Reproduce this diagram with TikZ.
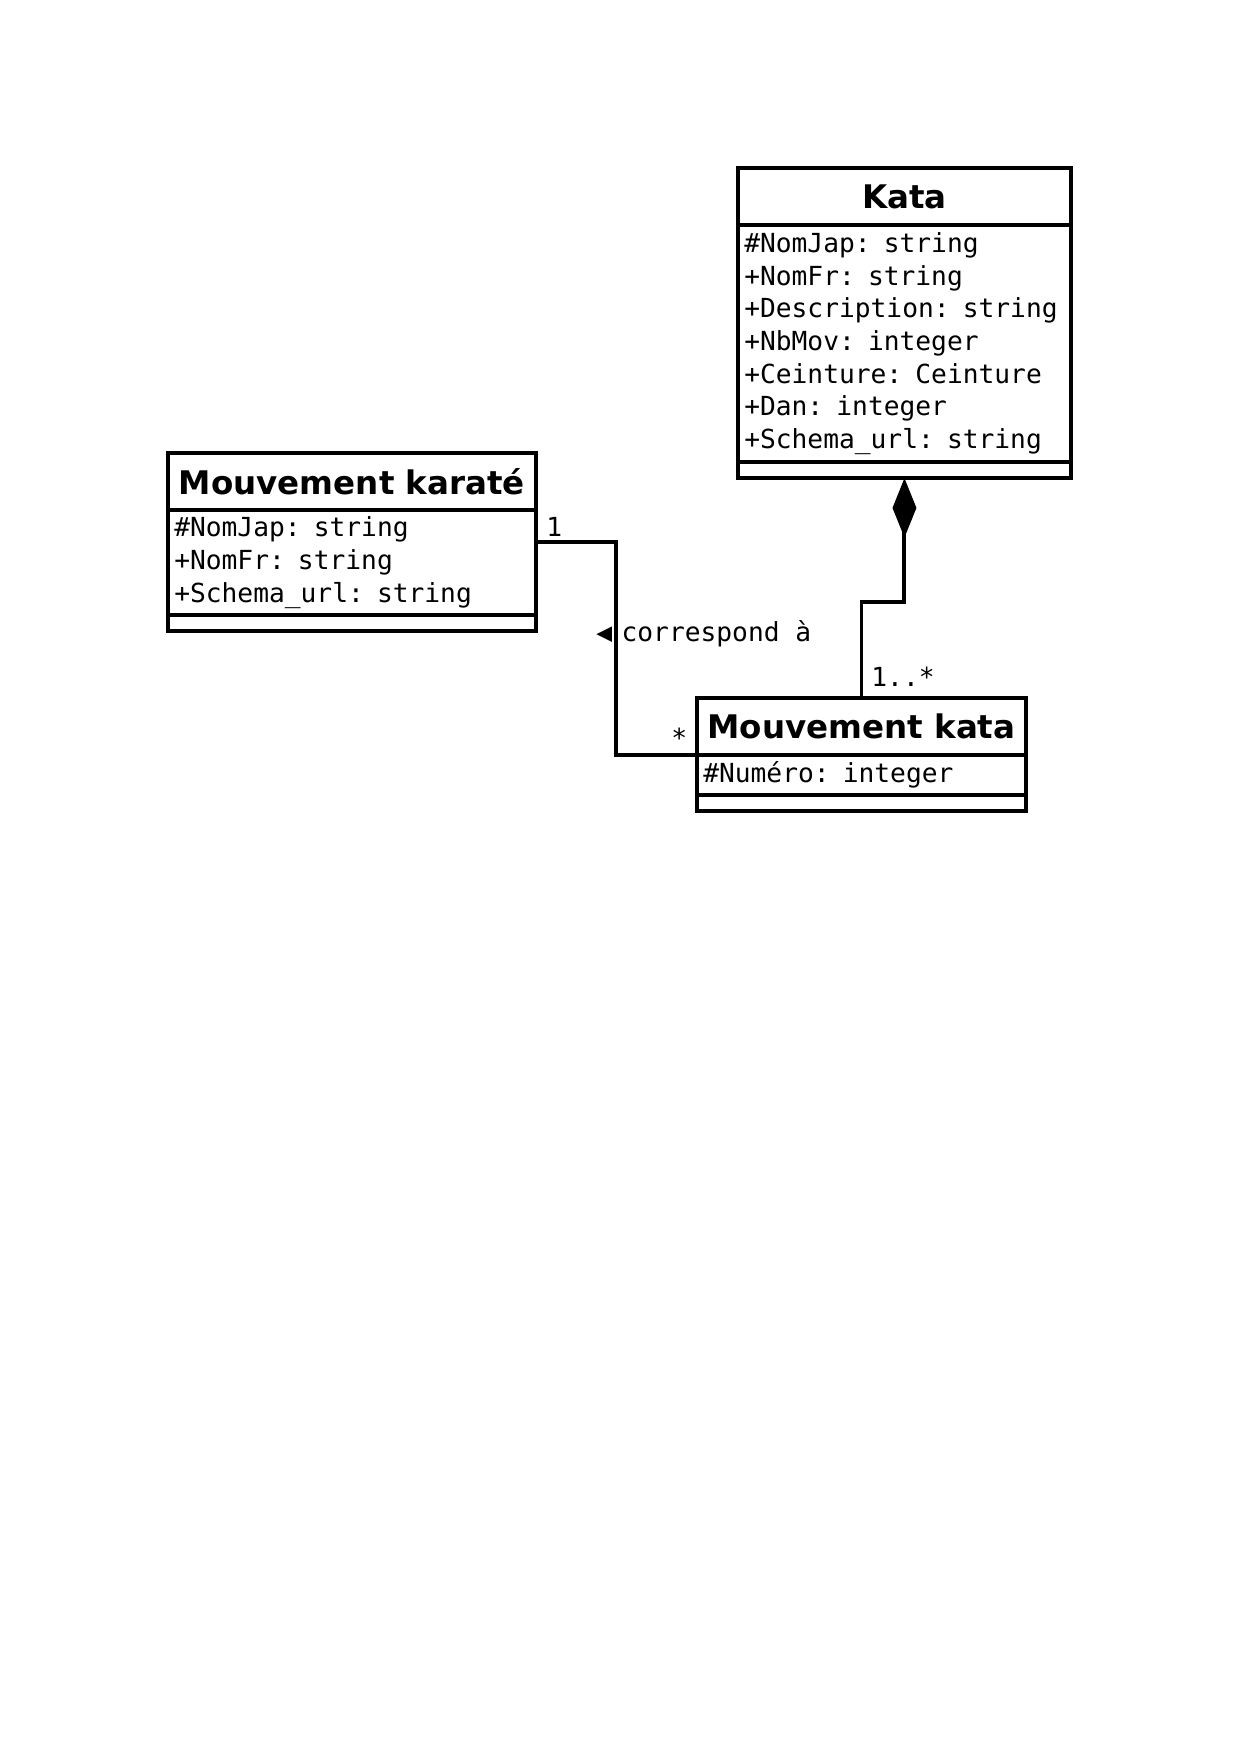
\documentclass[tikz,border=0pt]{standalone}
\usepackage{fontspec}
\setmainfont{DejaVu Sans}
\setmonofont{DejaVu Sans Mono}
\usetikzlibrary{positioning,arrows.meta}

\tikzset{
  classhead/.style={draw, line width=1.9pt, outer sep=0pt, minimum height=27.4pt, inner sep=0pt, font=\fontsize{15.6}{18}\selectfont\bfseries},
  classattr/.style={draw, line width=1.9pt, outer sep=0pt, inner xsep=3pt, inner ysep=2pt, align=left, font=\fontsize{12.6}{15.7}\selectfont\ttfamily},
  classops/.style={draw, line width=1.9pt, outer sep=0pt, minimum height=7.7pt, inner sep=0pt},
  assoc/.style={line width=1.9pt},
  comp/.style={line width=1.9pt, -{Diamond[length=28.5pt,width=11.5pt]}},
  multlabel/.style={inner sep=0pt, font=\fontsize{12.6}{15.7}\selectfont\ttfamily}
}

\begin{document}
\begin{tikzpicture}[x=0.48pt,y=-0.48pt]
\useasboundingbox (0,0) rectangle (1240,1754);

\node [classhead, minimum width=159.8pt, anchor=north west] (kata) at (738,168) {Kata};
\node [classattr, text width=153.8pt, minimum height=113.8pt, below=0pt of kata] (kataAttr)
  {\#NomJap: string\\+NomFr: string\\+Description: string\\+NbMov: integer\\+Ceinture: Ceinture\\+Dan: integer\\+Schema\_url: string};
\node [classops, minimum width=159.8pt, below=0pt of kataAttr] (kataOps) {};

\node [classhead, minimum width=176.6pt, anchor=north west] (karate) at (168,453) {Mouvement karaté};
\node [classattr, text width=170.6pt, minimum height=50.4pt, below=0pt of karate] (karateAttr)
  {\#NomJap: string\\+NomFr: string\\+Schema\_url: string};
\node [classops, minimum width=176.6pt, below=0pt of karateAttr] (karateOps) {};

\node [classhead, minimum width=157.9pt, anchor=north west] (mkata) at (697,698) {Mouvement kata};
\node [classattr, text width=151.9pt, minimum height=19.2pt, below=0pt of mkata] (mkataAttr)
  {\#Numéro: integer};
\node [classops, minimum width=157.9pt, below=0pt of mkataAttr] (mkataOps) {};

\draw [assoc] ([yshift=9.8pt]karateAttr.east) -- ++(80,0) |- (mkata.south west);
\draw [comp] (mkata.north) -- ++(0,-96) -| (kataOps.south);

\node [multlabel, anchor=base west] (oneLbl) at (546,536) {1};
\node [multlabel, anchor=base west] (manyLbl) at (671,747) {*};
\node [multlabel, anchor=base west] (compLbl) at (871,686) {1..*};
\node [multlabel, anchor=base west] (assocLbl) at (596,641) {◀\hspace{4.5pt}correspond à};
\end{tikzpicture}
\end{document}
